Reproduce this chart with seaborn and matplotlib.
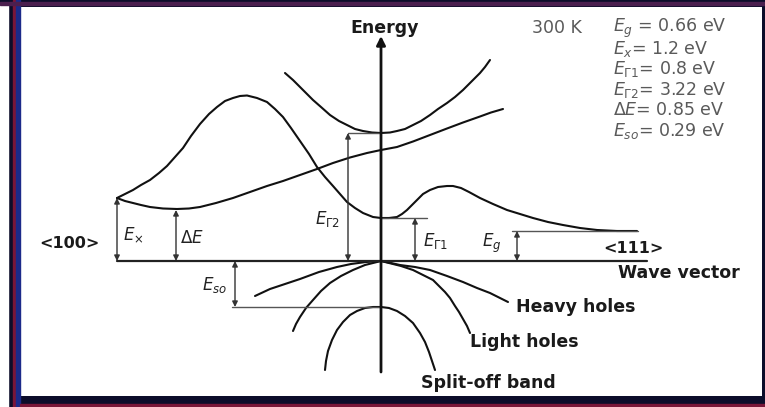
import matplotlib
matplotlib.use("Agg")
import matplotlib.pyplot as plt
from matplotlib.patches import Rectangle
import pandas as pd
import seaborn as sns

# ---- band curves of germanium (k: wave vector, E: energy, arbitrary units) ----
gamma2_k = [-96, -88, -81, -74, -68, -60, -51, -42, -34, -26, -18, -9, 0,
            9, 16, 24, 32, 40, 49, 57, 66, 74, 82, 90, 99, 104, 109]
gamma2_E = [188, 181, 174, 167, 161, 154, 146, 140, 136, 132, 130, 128.5, 128,
            128.5, 130, 132, 136, 140, 146, 152, 158, 164, 171, 179, 188, 194, 201]

xband_k = [-264, -256, -248, -240, -231, -218, -204, -192, -181, -165, -148, -131, -114,
           -98, -81, -64, -48, -31, -14, 0, 16, 32, 49, 66, 82, 99, 110, 122]
xband_E = [63, 60, 58, 56, 54, 52.5, 52, 52.5, 54, 58, 63, 69, 75,
           80, 86, 92, 98, 103.5, 108, 111, 114, 119.5, 126, 132.5, 138.5, 144.5, 148.5, 152]

lband_k = [-264, -256, -248, -240, -231, -222, -214, -206, -198, -190, -181, -172, -164,
           -156, -148, -141, -134, -124, -114, -106, -98, -90, -81, -72, -64, -56, -48,
           -41, -34, -26, -18, -8, 0, 8, 16, 21, 26, 31, 36, 42, 49, 57, 66, 72, 80, 88,
           99, 112, 126, 139, 152, 167, 182, 199, 216, 236, 256]
lband_E = [63, 67, 71, 76, 81, 88, 95, 104, 113, 125, 137, 147, 154,
           160, 163, 165, 165.5, 163, 159, 152, 144, 133, 120, 107, 94, 84, 75,
           67, 59, 53, 48, 44, 43, 43, 44, 47, 51, 56, 61, 67, 71, 74, 75, 75, 73, 69,
           63, 57, 51, 47, 43, 39, 36, 33, 31, 30, 30]

heavy_k = [-126, -111, -96, -81, -62, -44, -30, -15, 0,
           10, 19, 34, 49, 66, 82, 96, 109, 127]
heavy_E = [-35, -28, -23, -18, -11, -6, -3, -1, 0,
           -2, -4, -6, -9, -15, -21, -27, -32, -41]

light_k = [-88, -85, -81, -75, -68, -60, -51, -40, -28, -16, -8, 0,
           8, 20, 32, 44, 52, 58, 64, 69, 74, 78, 82, 86, 89]
light_E = [-70, -63, -56, -47, -39, -30, -22, -15, -9, -4, -2, 0,
           -2, -5, -9, -15, -19, -25, -31, -37, -45, -51, -58, -65, -72]

split_k = [-56, -55, -53, -49, -44, -38, -31, -24, -16, -8, 0,
           8, 16, 24, 32, 39, 44, 48, 51, 54]
split_E = [-109, -100, -90, -79, -69, -61, -54, -50, -47, -46, -46,
           -47, -50, -55, -62, -72, -81, -91, -100, -109]

# ---- energy gaps marked on the diagram ----
gap_E_x = 63
gap_dE = 51
gap_G2 = 128
gap_G1 = 43
gap_g = 30
gap_so = -46

param_lines = [r"$E_g$ = 0.66 eV", r"$E_x$= 1.2 eV", r"$E_{\Gamma 1}$= 0.8 eV",
               r"$E_{\Gamma 2}$= 3.22 eV", r"$\Delta E$= 0.85 eV", r"$E_{so}$= 0.29 eV"]

bands = {
    "Gamma2": (gamma2_k, gamma2_E),
    "X": (xband_k, xband_E),
    "L": (lband_k, lband_E),
    "heavy": (heavy_k, heavy_E),
    "light": (light_k, light_E),
    "split": (split_k, split_E),
}
df = pd.concat(
    [pd.DataFrame({"k": k, "E": e, "band": name}) for name, (k, e) in bands.items()],
    ignore_index=True,
)

sns.set_theme(style="white")
plt.rcParams["font.family"] = ["DejaVu Sans"]
plt.rcParams["mathtext.fontset"] = "dejavusans"

fig = plt.figure(figsize=(7.65, 4.07), dpi=100, facecolor="#0c0d2a")
ax = fig.add_axes([21 / 765, 11 / 407, 741 / 765, 389 / 407])
ax.set_facecolor("white")

sns.lineplot(data=df, x="k", y="E", units="band", estimator=None, sort=False,
             color="#111111", lw=1.5, ax=ax, legend=False,
             solid_joinstyle="round", solid_capstyle="round")

# wave-vector axis and energy axis
ax.plot([-264, 266], [0, 0], color="#222222", lw=1.6)
ax.annotate("", xy=(0, 225), xytext=(0, -111),
            arrowprops=dict(arrowstyle="-|>", color="#111111", lw=2.0,
                            mutation_scale=13, shrinkA=0, shrinkB=0))

# reference levels
ref_color = "#555555"
ax.plot([-33, 0], [gap_G2, gap_G2], color=ref_color, lw=1.0)
ax.plot([0, 46], [gap_G1, gap_G1], color=ref_color, lw=1.0)
ax.plot([131, 257], [gap_g, gap_g], color=ref_color, lw=1.0)
ax.plot([-149, 0], [gap_so, gap_so], color=ref_color, lw=1.0)


def gap_arrow(k, e0, e1):
    ax.annotate("", xy=(k, e1), xytext=(k, e0),
                arrowprops=dict(arrowstyle="<|-|>", color="#333333", lw=1.0,
                                mutation_scale=8, shrinkA=0, shrinkB=0))


gap_arrow(-264, 0, gap_E_x)
gap_arrow(-205, 0, gap_dE)
gap_arrow(-33, 0, gap_G2)
gap_arrow(34, 0, gap_G1)
gap_arrow(136, 0, gap_g)
gap_arrow(-146, 0, gap_so)

lab = dict(fontsize=12, color="#222222", va="center", ha="left")
ax.text(-258, 26, r"$E_{\times}$", **lab)
ax.text(-201, 23, r"$\Delta E$", **lab)
ax.text(-66, 42, r"$E_{\Gamma 2}$", **lab)
ax.text(42, 20, r"$E_{\Gamma 1}$", **lab)
ax.text(101, 18, r"$E_g$", **lab)
ax.text(-179, -24, r"$E_{so}$", **lab)

bold = dict(fontweight="bold", color="#1a1a1a", ha="center", va="center")
ax.text(-312, 18, "<100>", fontsize=11.5, **bold)
ax.text(252, 13, "<111>", fontsize=11.5, **bold)
ax.text(298, -12, "Wave vector", fontsize=12.5, **bold)
ax.text(195, -46, "Heavy holes", fontsize=12.5, **bold)
ax.text(143, -81, "Light holes", fontsize=12.5, **bold)
ax.text(107, -122, "Split-off band", fontsize=12.5, **bold)
ax.text(4, 233, "Energy", fontsize=12.5, **bold)

ax.text(151, 233, "300 K", fontsize=12.5, color="#5a5a5a", ha="left", va="center")
for i, line in enumerate(param_lines):
    ax.text(232, 233 - 20.6 * i, line, fontsize=12.5, color="#5a5a5a",
            ha="left", va="center")

ax.set_xlim(-360, 381)
ax.set_ylim(-135, 254)
ax.set_xticks([])
ax.set_yticks([])
ax.set_xlabel("")
ax.set_ylabel("")
for s in ax.spines.values():
    s.set_visible(False)

# screen-capture style frame
W, H = 765, 407
fig.patches.append(Rectangle((0, 0), 8 / W, 1 - 5 / H, transform=fig.transFigure,
                             color="white", zorder=0))
fig.patches.append(Rectangle((13 / W, 0), 2 / W, 1, transform=fig.transFigure,
                             color="#7a1638", zorder=1))
fig.patches.append(Rectangle((16 / W, 0), 4 / W, 1, transform=fig.transFigure,
                             color="#1b2a8a", zorder=1))
fig.patches.append(Rectangle((0, 1 - 5 / H), 1, 3 / H, transform=fig.transFigure,
                             color="#4b1f4f", zorder=1))
fig.patches.append(Rectangle((20 / W, 0), 1, 3 / H, transform=fig.transFigure,
                             color="#7a1638", zorder=1))

fig.savefig("out.png", dpi=100, facecolor=fig.get_facecolor())
